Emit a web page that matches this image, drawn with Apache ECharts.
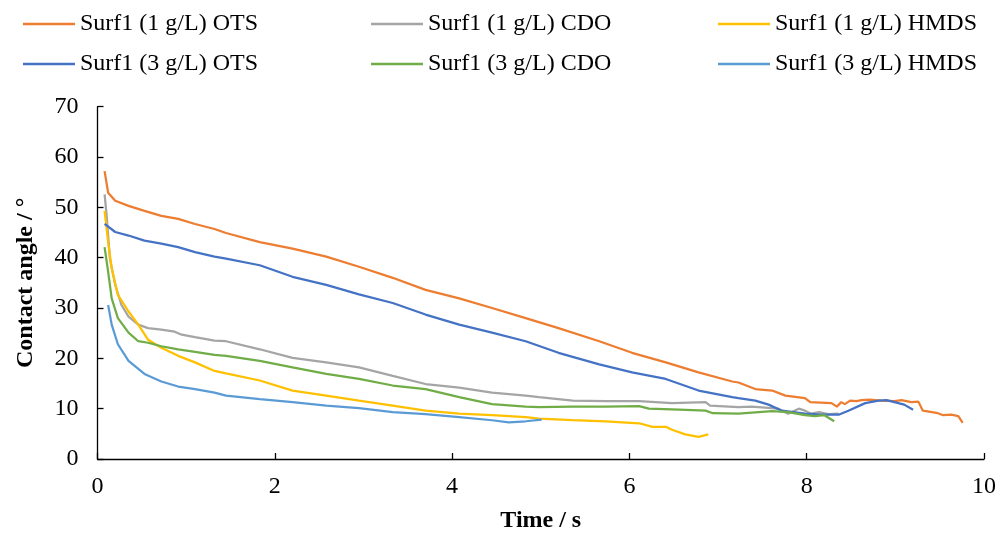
<!DOCTYPE html>
<html>
<head>
<meta charset="utf-8">
<script src="https://cdn.jsdelivr.net/npm/echarts@6/dist/echarts.min.js"></script>
<style>
html,body{margin:0;padding:0;background:#fff;}
#chart{width:999px;height:538px;}
</style>
</head>
<body>
<div id="chart"></div>
<script>
// Series names
var names = [
  'Surf1 (1 g/L) OTS', 'Surf1 (1 g/L) CDO', 'Surf1 (1 g/L) HMDS',
  'Surf1 (3 g/L) OTS', 'Surf1 (3 g/L) CDO', 'Surf1 (3 g/L) HMDS'
];
var colors = ['#ED7D31', '#A5A5A5', '#FFC000', '#4472C4', '#70AD47', '#5B9BD5'];

// Surf1 (1 g/L) OTS
var ots1T = [0.08,0.12,0.2,0.35,0.53,0.72,0.91,1.10,1.32,1.45,1.83,2.2,2.58,2.95,3.33,3.70,4.08,4.45,4.83,5.2,5.66,6.03,6.41,6.78,7.16,7.23,7.42,7.61,7.76,7.98,8.04,8.28,8.34,8.39,8.43,8.49,8.56,8.62,8.71,8.84,8.99,9.07,9.18,9.26,9.31,9.48,9.54,9.63,9.71,9.76];
var ots1V = [57.2,52.9,51.3,50.3,49.3,48.3,47.7,46.7,45.7,44.9,43.1,41.8,40.2,38.2,36.0,33.6,31.9,30.0,28.0,26.0,23.4,21.1,19.2,17.2,15.4,15.2,13.9,13.6,12.6,12.1,11.3,11.1,10.4,11.3,10.9,11.6,11.5,11.7,11.8,11.6,11.5,11.7,11.3,11.4,9.6,9.1,8.7,8.8,8.5,7.2];

// Surf1 (1 g/L) CDO
var cdo1T = [0.08,0.10,0.14,0.20,0.27,0.35,0.46,0.57,0.72,0.87,0.95,1.10,1.32,1.45,1.83,2.2,2.58,2.95,3.33,3.70,4.08,4.45,4.83,4.98,5.36,5.73,6.11,6.48,6.86,6.91,7.23,7.38,7.53,7.68,7.79,7.91,7.98,8.05,8.14,8.24,8.36];
var cdo1V = [52.6,49.0,39.8,34.6,30.6,28.3,26.7,26.0,25.7,25.3,24.7,24.2,23.5,23.4,21.8,20.1,19.2,18.2,16.5,14.9,14.2,13.2,12.6,12.3,11.6,11.5,11.5,11.1,11.3,10.6,10.3,10.4,10.2,10.0,9.0,10.0,9.6,9.0,9.3,8.9,9.0];

// Surf1 (1 g/L) HMDS
var hmds1T = [0.08,0.12,0.16,0.23,0.35,0.46,0.57,0.72,0.91,1.10,1.32,1.45,1.83,2.2,2.58,2.95,3.33,3.70,4.08,4.45,4.83,4.98,5.36,5.73,6.11,6.26,6.41,6.48,6.63,6.78,6.89];
var hmds1V = [49.3,43.1,37.9,32.6,29.3,26.7,23.7,22.1,20.5,19.2,17.5,17.0,15.6,13.6,12.6,11.6,10.6,9.6,9.0,8.7,8.3,8.0,7.7,7.5,7.1,6.4,6.4,5.8,4.9,4.4,4.9];

// Surf1 (3 g/L) OTS
var ots3T = [0.08,0.2,0.35,0.53,0.72,0.91,1.10,1.32,1.45,1.83,2.2,2.58,2.95,3.33,3.70,4.08,4.45,4.83,5.2,5.66,6.03,6.41,6.78,7.16,7.23,7.42,7.57,7.72,7.98,8.17,8.36,8.47,8.66,8.81,8.90,8.99,9.1,9.2];
var ots3V = [46.7,45.1,44.4,43.4,42.8,42.1,41.1,40.2,39.8,38.5,36.2,34.6,32.7,31.0,28.7,26.7,25.1,23.4,21.1,18.8,17.2,15.9,13.6,12.3,12.1,11.6,10.8,9.6,9.0,8.8,8.8,9.6,11.1,11.6,11.7,11.3,10.8,9.8];

// Surf1 (3 g/L) CDO
var cdo3T = [0.08,0.12,0.16,0.23,0.35,0.46,0.57,0.72,0.91,1.10,1.32,1.45,1.83,2.2,2.58,2.95,3.33,3.70,4.08,4.45,4.83,4.98,5.36,5.73,6.11,6.22,6.56,6.86,6.94,7.23,7.61,7.79,7.98,8.09,8.20,8.31];
var cdo3V = [42.1,37.2,31.9,28.0,25.1,23.4,23.1,22.4,21.8,21.3,20.7,20.5,19.5,18.2,16.9,15.9,14.6,13.9,12.3,10.9,10.4,10.3,10.4,10.4,10.5,10.0,9.8,9.6,9.1,9.0,9.5,9.3,8.7,8.5,8.7,7.5];

// Surf1 (3 g/L) HMDS
var hmds3T = [0.12,0.16,0.23,0.35,0.53,0.72,0.91,1.10,1.32,1.45,1.83,2.2,2.58,2.95,3.33,3.70,4.08,4.45,4.64,4.83,5.01];
var hmds3V = [30.6,26.7,22.8,19.5,16.9,15.4,14.4,13.9,13.2,12.6,11.9,11.3,10.6,10.1,9.3,8.9,8.3,7.7,7.3,7.5,7.8];

// Axis ticks
var xTicks = [0, 2, 4, 6, 8, 10];
var yTicks = [0, 10, 20, 30, 40, 50, 60, 70];

var seriesT = [ots1T, cdo1T, hmds1T, ots3T, cdo3T, hmds3T];
var seriesV = [ots1V, cdo1V, hmds1V, ots3V, cdo3V, hmds3V];

function pairs(t, v) { return t.map(function (x, i) { return [x, v[i]]; }); }

var FONT = 'Liberation Serif';
var legendPos = [[18, 7], [366, 7], [713, 7], [18, 47], [366, 47], [713, 47]];

var option = {
  backgroundColor: '#fff',
  animation: false,
  color: colors,
  legend: names.map(function (n, i) {
    return {
      data: [n], left: legendPos[i][0], top: legendPos[i][1],
      icon: 'rect', itemWidth: 52, itemHeight: 2.5,
      textStyle: { fontFamily: FONT, fontSize: 24, color: '#000' }
    };
  }),
  grid: { left: 97.5, right: 13, top: 106.7, bottom: 75.7, containLabel: false },
  xAxis: {
    type: 'value', min: xTicks[0], max: xTicks[xTicks.length - 1], interval: 2,
    name: 'Time / s', nameLocation: 'middle', nameGap: 50,
    nameTextStyle: { fontFamily: FONT, fontSize: 24, fontWeight: 'bold', color: '#000' },
    axisLine: { lineStyle: { color: '#000', width: 1.3 } },
    axisTick: { inside: true, length: 6, lineStyle: { color: '#000', width: 1.3 } },
    axisLabel: { fontFamily: FONT, fontSize: 24, color: '#000', margin: 16 },
    splitLine: { show: false }
  },
  yAxis: {
    type: 'value', min: yTicks[0], max: yTicks[yTicks.length - 1], interval: 10,
    name: 'Contact angle / °', nameLocation: 'middle', nameGap: 60,
    nameTextStyle: { fontFamily: FONT, fontSize: 24, fontWeight: 'bold', color: '#000' },
    axisLine: { show: true, lineStyle: { color: '#000', width: 1.3 } },
    axisTick: { show: true, inside: true, length: 6, lineStyle: { color: '#000', width: 1.3 } },
    axisLabel: { fontFamily: FONT, fontSize: 24, color: '#000', margin: 19 },
    splitLine: { show: false }
  },
  series: names.map(function (n, i) {
    return {
      name: n, type: 'line', showSymbol: false, symbol: 'none',
      data: pairs(seriesT[i], seriesV[i]),
      lineStyle: { width: 2.25, color: colors[i] },
      itemStyle: { color: colors[i] }
    };
  })
};

var chart = echarts.init(document.getElementById('chart'), null, { renderer: 'canvas' });
chart.setOption(option);
</script>
</body>
</html>
